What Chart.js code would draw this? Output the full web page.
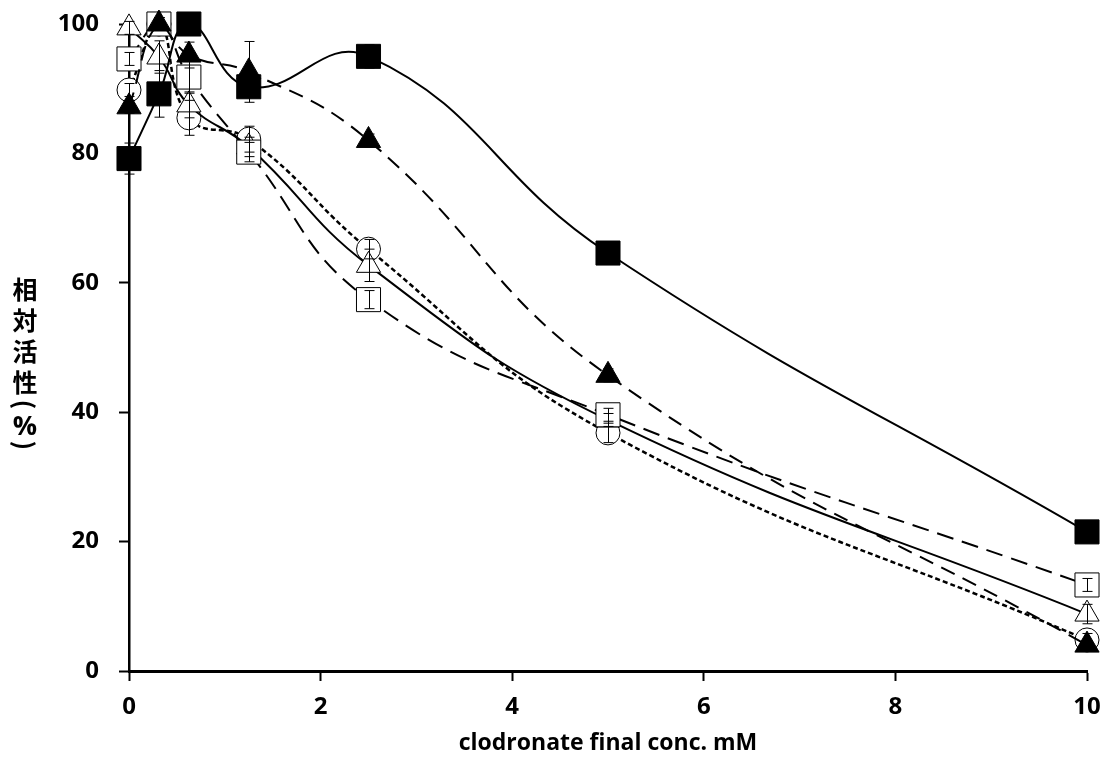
<!DOCTYPE html>
<html>
<head>
<meta charset="utf-8">
<script src="https://cdn.jsdelivr.net/npm/chart.js@4.4.1/dist/chart.umd.min.js"></script>
<style>
  html, body { margin: 0; padding: 0; background: #fff; }
  #wrap { position: relative; width: 1104px; height: 766px; }
  #ytitle {
    position: absolute; left: 10px; top: 273px; width: 30px;
    font: bold 25px 'Noto Sans CJK JP', sans-serif; color: #000;
  }
  #ytitle div { height: 31px; line-height: 31px; text-align: center; }
  #ytitle div.p { height: 15px; line-height: 15px; transform: rotate(90deg); }
  #ytitle div.pct { font-family: 'Open Sans', sans-serif; font-size: 27px; height: 26px; line-height: 26px; }
</style>
</head>
<body>
<div id="wrap">
  <canvas id="chart" width="1104" height="766"></canvas>
  <div id="ytitle"><div>相</div><div>対</div><div>活</div><div>性</div><div class="p">(</div><div class="pct">%</div><div class="p">)</div></div>
</div>
<script>
// clodronate final concentrations (mM)
const concs = [0, 0.3125, 0.625, 1.25, 2.5, 5, 10];
const xTicks = [0, 2, 4, 6, 8, 10];
const yTicks = [0, 20, 40, 60, 80, 100];

// relative activity (%)
const filledSquare   = [79.2, 89.2, 100, 90.3, 95.0, 64.6, 21.5];
const filledTriangle = [87.2, 100, 95.2, 92.6, 82.0, 45.7, 4.0];
const openSquare     = [94.6, 100, 91.8, 80.2, 57.4, 39.6, 13.3];
const openTriangle   = [99.4, 94.9, 87.5, 81.0, 62.7, 38.8, 8.8];
const openCircle     = [89.8, 100, 85.5, 82.2, 65.2, 36.8, 4.8];

// error bar half-widths (%)
const filledSquareErr   = [2.4, 3.6, 1.0, 1.0, 1.8, 1.0, 0.5];
const filledTriangleErr = [1.0, 1.0, 2.0, 4.7, 1.0, 1.0, 0.5];
const openSquareErr     = [1.0, 1.0, 2.5, 1.5, 1.4, 1.0, 1.0];
const openTriangleErr   = [1.0, 2.5, 2.0, 1.5, 2.5, 1.0, 1.5];
const openCircleErr     = [1.0, 1.0, 2.7, 2.0, 1.5, 1.5, 1.0];

function pts(vals) {
    return vals.map((v, i) => ({ x: concs[i], y: v }));
}

const errorBars = {
    id: 'errorBars',
    afterDatasetsDraw(chart) {
        const ctx = chart.ctx;
        const xs = chart.scales.x, ys = chart.scales.y;
        ctx.save();
        ctx.strokeStyle = '#000';
        ctx.lineWidth = 1;
        chart.data.datasets.forEach(ds => {
            ds.errors.forEach((e, i) => {
                const px = Math.round(xs.getPixelForValue(ds.data[i].x)) + 0.5;
                const t = ys.getPixelForValue(ds.data[i].y + e);
                const b = ys.getPixelForValue(ds.data[i].y - e);
                ctx.beginPath();
                ctx.moveTo(px, t); ctx.lineTo(px, b);
                ctx.moveTo(px - 5, t); ctx.lineTo(px + 5, t);
                ctx.moveTo(px - 5, b); ctx.lineTo(px + 5, b);
                ctx.stroke();
            });
        });
        ctx.restore();
    }
};

function series(vals, errs, style, radius, filled, dash, width) {
    return {
        data: pts(vals),
        errors: errs,
        borderColor: '#000',
        borderWidth: width,
        borderDash: dash,
        pointStyle: style,
        pointRadius: radius,
        pointHoverRadius: radius,
        pointBackgroundColor: filled ? '#000' : '#fff',
        pointBorderColor: '#000',
        pointBorderWidth: 1,
        tension: 0.45,
        fill: false,
        clip: false
    };
}

// fixed axis box, no extra label padding around the plot
function fixBox(size, horizontal) {
    return s => {
        if (horizontal) s.height = size; else s.width = size;
        s.paddingTop = 0; s.paddingBottom = 0;
        s.paddingLeft = 0; s.paddingRight = 0;
    };
}

Chart.defaults.font.family = "'Open Sans', sans-serif";
Chart.defaults.font.weight = 'bold';
Chart.defaults.color = '#000';

new Chart(document.getElementById('chart'), {
    type: 'line',
    data: {
        datasets: [
            series(filledSquare, filledSquareErr, 'rect', 17, true, [], 2),
            series(filledTriangle, filledTriangleErr, 'triangle', 14, true, [15, 9], 2),
            series(openSquare, openSquareErr, 'rect', 17, false, [17, 9], 2),
            series(openTriangle, openTriangleErr, 'triangle', 14, false, [], 2),
            series(openCircle, openCircleErr, 'circle', 12, false, [5, 3], 2.5)
        ]
    },
    options: {
        responsive: false,
        animation: false,
        events: [],
        layout: { autoPadding: false, padding: { top: 24, right: 17, left: 0, bottom: 0 } },
        plugins: { legend: { display: false }, tooltip: { enabled: false } },
        scales: {
            x: {
                type: 'linear',
                min: 0, max: 10,
                afterBuildTicks: s => { s.ticks = xTicks.map(v => ({ value: v })); },
                afterFit: fixBox(95, true),
                grid: { drawOnChartArea: false, color: '#000', tickLength: 10, tickWidth: 2 },
                border: { color: '#000', width: 3 },
                ticks: { font: { size: 24, weight: 'bold' }, padding: 12, maxRotation: 0 },
                title: {
                    display: true,
                    text: 'clodronate final conc. mM',
                    font: { size: 23, weight: 'bold' },
                    padding: { top: 0, bottom: 9 }
                }
            },
            y: {
                min: 0, max: 100,
                afterBuildTicks: s => { s.ticks = yTicks.map(v => ({ value: v })); },
                afterFit: fixBox(129, false),
                grid: { drawOnChartArea: false, color: '#000', tickLength: 10, tickWidth: 2 },
                border: { color: '#000', width: 2.5 },
                ticks: { font: { size: 24, weight: 'bold' }, padding: 20 }
            }
        }
    },
    plugins: [errorBars]
});
</script>
</body>
</html>
